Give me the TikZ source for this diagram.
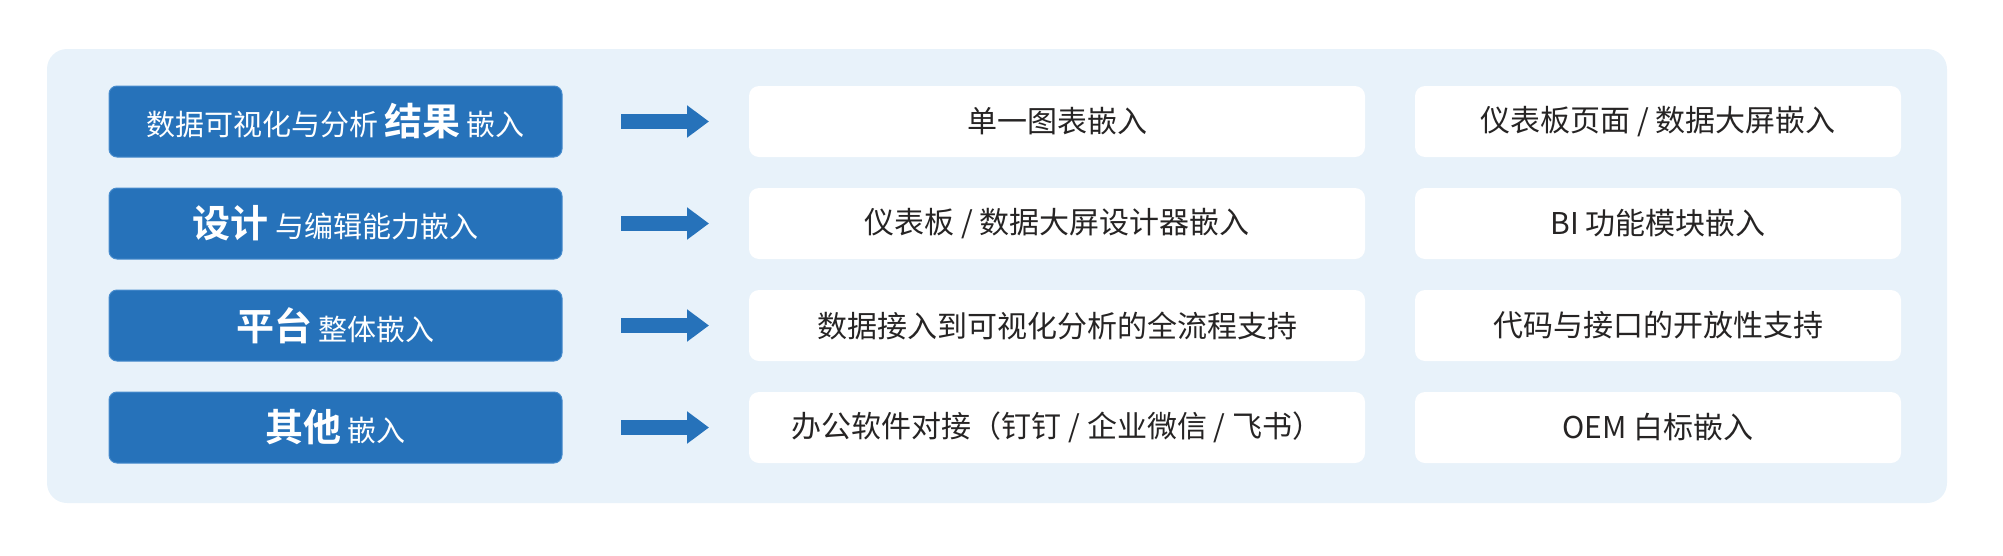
\documentclass[tikz,border=0pt]{standalone}
\usepackage{fontspec}
\setmainfont{Noto Sans CJK SC}[BoldFont={Noto Sans CJK SC Bold}]
\usepackage{xcolor}
\usepackage{tikz}
\usetikzlibrary{arrows.meta, positioning}
\definecolor{EmbBlue}{RGB}{38, 114, 186}
\definecolor{EmbBlueEdge}{RGB}{72, 140, 205}
\definecolor{EmbPanel}{RGB}{232, 242, 250}
\definecolor{EmbText}{RGB}{38, 36, 36}

\tikzset{
  catbox/.style={rounded corners=8pt, fill=EmbBlue, draw=EmbBlueEdge, line width=1pt,
                 minimum width=453pt, minimum height=71pt, inner sep=0pt, outer sep=0pt,
                 text=white, font=\fontsize{29}{32}\selectfont},
  itembox/.style={rounded corners=10pt, fill=white, minimum height=71pt,
                  inner sep=0pt, outer sep=0pt, text=EmbText,
                  font=\fontsize{30}{33}\selectfont},
  wideitem/.style={itembox, minimum width=616pt},
  narrowitem/.style={itembox, minimum width=486pt},
  flowarrow/.style={draw=EmbBlue, line width=15pt, shorten <=59pt, shorten >=40pt,
                    -{Triangle[length=22pt, width=31pt]}},
}
\newcommand{\keyword}[1]{{\fontsize{38}{40}\selectfont\bfseries #1}}

\begin{document}
\begin{tikzpicture}[x=1pt, y=-1pt, node distance=187pt]
  \useasboundingbox (0,0) rectangle (2003,555);
  % panel
  \fill[EmbPanel, rounded corners=20pt] (47,49) rectangle (1947,503);

  % categories
  \node[catbox] (result) at (335.5,121.5) {数据可视化与分析 \keyword{结果} 嵌入};
  \node[catbox] (design) at (335.5,223.5) {\keyword{设计} 与编辑能力嵌入};
  \node[catbox] (platform) at (335.5,325.5) {\keyword{平台} 整体嵌入};
  \node[catbox] (other) at (335.5,427.5) {\keyword{其他} 嵌入};

  % items
  \node[wideitem, right=of result] (resultA) {单一图表嵌入};
  \node[narrowitem, right=50pt of resultA] (resultB) {仪表板页面 / 数据大屏嵌入};
  \node[wideitem, right=of design] (designA) {仪表板 / 数据大屏设计器嵌入};
  \node[narrowitem, right=50pt of designA] (designB) {BI 功能模块嵌入};
  \node[wideitem, right=of platform] (platformA) {数据接入到可视化分析的全流程支持};
  \node[narrowitem, right=50pt of platformA] (platformB) {代码与接口的开放性支持};
  \node[wideitem, right=of other] (otherA) {办公软件对接（钉钉 / 企业微信 / 飞书）};
  \node[narrowitem, right=50pt of otherA] (otherB) {OEM 白标嵌入};

  % arrows
  \draw[flowarrow] (result) -- (resultA);
  \draw[flowarrow] (design) -- (designA);
  \draw[flowarrow] (platform) -- (platformA);
  \draw[flowarrow] (other) -- (otherA);
\end{tikzpicture}
\end{document}
